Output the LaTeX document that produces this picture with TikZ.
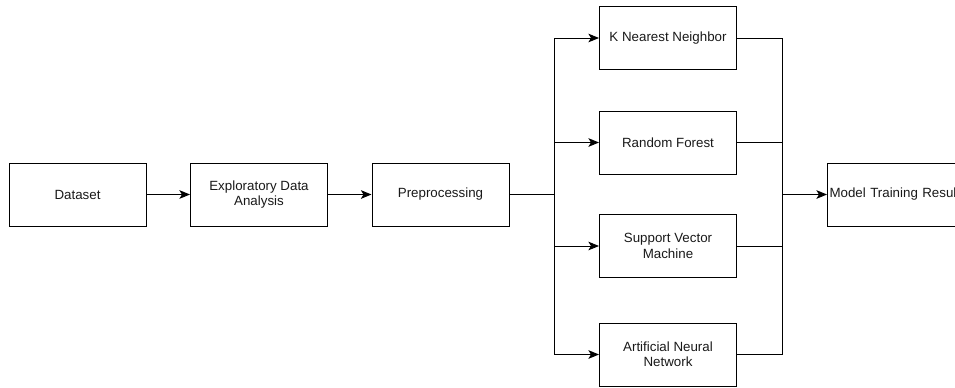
\documentclass[tikz,border=0pt]{standalone}
\usepackage{fontspec}
\setmainfont{Liberation Sans}
\usetikzlibrary{arrows.meta}

\begin{document}
\begin{tikzpicture}[x=0.75pt, y=-0.75pt,
	box/.style={draw, line width=0.75pt, minimum width=102.75pt, minimum height=47.25pt,
		align=center, font=\fontsize{10}{11.5}\selectfont, text=black!90},
	flow/.style={line width=0.75pt, -{Stealth[length=8pt, width=6.5pt, inset=2pt]}},
	wire/.style={line width=0.75pt}]

	% ---- frame

	\useasboundingbox (0,0) rectangle (955,387);
	\clip (0,0) rectangle (955,387);

	% ---- parameters

	\def\midy{194.5}
	\def\splitx{554}
	\def\mergex{782}

	% ---- pipeline

	\node[box] (data) at (77.5,\midy) {Dataset};
	\node[box] (eda) at (259,\midy) {Exploratory Data\\Analysis};
	\node[box] (pre) at (440.5,\midy) {Preprocessing};

	% ---- models

	\node[box] (knn) at (668,38) {K Nearest Neighbor};
	\node[box] (rf) at (668,142.5) {Random Forest};
	\node[box] (svm) at (668,246) {Support Vector\\Machine};
	\node[box] (ann) at (668,354.5) {Artificial Neural\\Network};

	% ---- result

	\node[box, anchor=west, text width=112pt, inner xsep=1.5pt, align=left] (res) at (827,\midy) {Model Training Result};

	% ---- joints

	\coordinate (split) at (\splitx,\midy);
	\coordinate (merge) at (\mergex,\midy);

	% ---- connectors

	\draw[flow] (data) -- (eda);
	\draw[flow] (eda) -- (pre);
	\draw[wire] (pre) -- (split);

	\foreach \m in {knn,rf,svm,ann} {
		\draw[flow] (split) |- (\m.west);
		\draw[wire] (\m.east) -| (merge);
	}

	\draw[flow] (merge) -- (res.west);

\end{tikzpicture}
\end{document}
